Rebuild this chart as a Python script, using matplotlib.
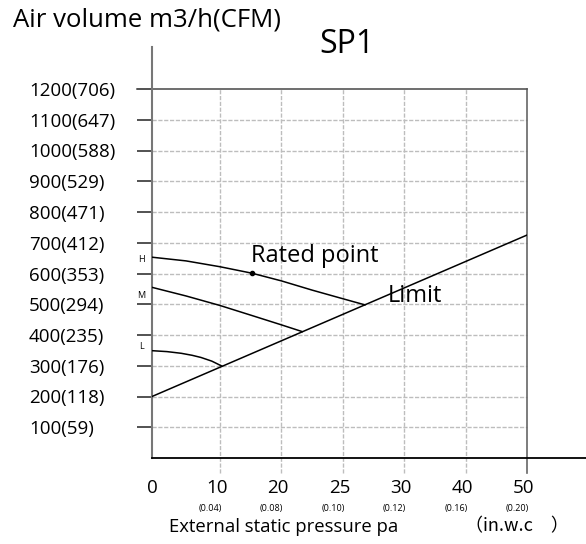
import numpy as np
import matplotlib
matplotlib.use("Agg")
import matplotlib.pyplot as plt
from matplotlib.transforms import blended_transform_factory

# axis labels / ticks
pressure_ticks = [0, 10, 20, 25, 30, 40, 50]
pressure_labels = ['0', '10', '20', '25', '30', '40', '50']
inwc_labels = ['(0.04)', '(0.08)', '(0.10)', '(0.12)', '(0.16)', '(0.20)']
airflow_ticks = [100, 200, 300, 400, 500, 600, 700, 800, 900, 1000, 1100, 1200]
airflow_labels = ['100(59)', '200(118)', '300(176)', '400(235)', '500(294)', '600(353)',
                  '700(412)', '800(471)', '900(529)', '1000(588)', '1100(647)', '1200(706)']

# fan curves (Pa, m3/h)
h_pa = [0, 5, 10, 15.2, 20, 22.5, 25, 26.8]
h_air = [653, 641, 622, 601, 576, 546, 518, 498]
m_pa = [0, 5, 10, 15.1, 20, 21.7]
m_air = [555, 527, 496, 464, 433, 411]
l_pa = [0, 2.2, 4.3, 5.9, 7.2, 8.8, 10.3]
l_air = [349, 346, 340.5, 334, 327, 315, 299]
limit_pa = [0, 50]
limit_air = [200, 725]
rated_pa, rated_air = 15.2, 601

# tick spacing on the drawing is not linear in Pa
tick_pos = [0, 1.107, 2.107, 3.107, 4.107, 5.107, 6.107]
x_end = tick_pos[-1]
px = 61.4  # pixels per x unit
py = 0.3075  # pixels per m3/h


def to_pos(pa):
    return np.interp(pa, pressure_ticks, tick_pos)


font = ['Open Sans', 'DejaVu Sans']
plt.rcParams['font.family'] = font

fig = plt.figure(figsize=(5.86, 5.44), dpi=100)
ax = fig.add_axes([152 / 586, 1 - 458 / 544, 375 / 586, 369 / 544])
ax.set_xlim(0, x_end)
ax.set_ylim(0, 1200)
for s in ax.spines.values():
    s.set_visible(False)

below = -15 / py
grid_kw = dict(color='#bdbdbd', lw=1.0, dashes=(3, 1.2), clip_on=False, zorder=1)
for y in airflow_ticks[:-1]:
    ax.plot([0, x_end], [y, y], **grid_kw)
for x in tick_pos[1:-1]:
    ax.plot([x, x], [below, 1200], **grid_kw)
ax.plot([x_end, x_end], [below, 1200], color='#666666', lw=1.2, clip_on=False)
ax.plot([-15 / px, x_end], [1200, 1200], color='#555555', lw=1.2, clip_on=False)
ax.plot([0, 0], [0, 1337], color='#777777', lw=1.5, clip_on=False)
ax.plot([0, (586 - 152) / px], [0, 0], color='black', lw=1.3, clip_on=False)

# y ticks
ax.set_yticks(airflow_ticks, airflow_labels)
ax.tick_params(axis='y', length=10.8, width=1.3, color='#444444', pad=77.8, labelsize=13.5)
for t in ax.get_yticklabels():
    t.set_horizontalalignment('left')
ax.set_xticks([])

# curves
lk = dict(color='black', lw=1.1, zorder=3)
ax.plot(to_pos(h_pa), h_air, **lk)
ax.plot(to_pos(m_pa), m_air, **lk)
ax.plot(to_pos(l_pa), l_air, **lk)
ax.plot(to_pos(limit_pa), limit_air, **lk)
ax.plot(to_pos(rated_pa), rated_air, 'o', ms=3, color='black', zorder=4)

ax.text(-0.171, 647, 'H', fontsize=6.5, ha='center', va='center')
ax.text(-0.171, 527, 'M', fontsize=6.5, ha='center', va='center')
ax.text(-0.171, 362, 'L', fontsize=6.5, ha='center', va='center')
ax.text(1.607, 636, 'Rated point', fontsize=17, ha='left', va='baseline')
ax.text(3.844, 508, 'Limit', fontsize=17, ha='left', va='baseline')

# x labels
tr = blended_transform_factory(ax.transData, ax.transAxes)
for x, lab in zip(tick_pos, pressure_labels):
    ax.text(x - 0.05 if x > 0 else x, -35.3 / 369, lab, transform=tr,
            fontsize=13.5, ha='center', va='baseline')
for x, lab in zip(tick_pos[1:], inwc_labels):
    ax.text(x - 0.16, -52.7 / 369, lab, transform=tr,
            fontsize=6.5, ha='center', va='baseline')
ax.text(17 / px, -73.7 / 369, 'External static pressure pa', transform=tr,
        fontsize=13.3, ha='left', va='baseline')
ax.text(313 / px, -73.7 / 369, '（in.w.c　）', transform=tr,
        fontsize=13, ha='left', va='baseline', family=['Noto Sans CJK SC', 'DejaVu Sans'])

fig.text(12.7 / 586, 1 - 26.7 / 544, 'Air volume m3/h(CFM)', fontsize=18.5, ha='left', va='baseline')
fig.text(347 / 586, 1 - 53.3 / 544, 'SP1', fontsize=23, ha='center', va='baseline')

fig.savefig('out.png', dpi=100)
